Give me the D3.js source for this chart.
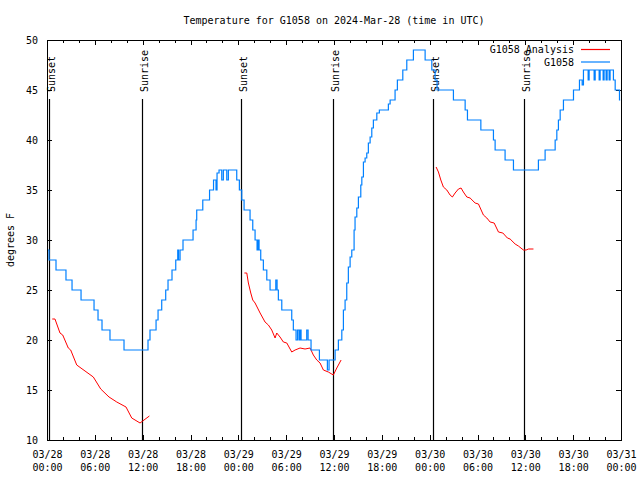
<!DOCTYPE html>
<html><head><meta charset="utf-8">
<script src="https://cdn.jsdelivr.net/npm/d3@7"></script>
<style>
body{margin:0;background:#fff;}
text{font-family:"DejaVu Sans Mono","Liberation Mono",monospace;font-size:10px;fill:#000;}
</style></head>
<body><svg id="c" width="640" height="480"></svg>
<script>
const title = "Temperature for G1058 on 2024-Mar-28 (time in UTC)";
const yLabel = "degrees F";
const seriesNames = ["G1058 Analysis", "G1058"];
const yTicks = [10,15,20,25,30,35,40,45,50];
const sunsetHours = [0.29, 24.38, 48.47];
const sunriseHours = [11.86, 35.92, 59.89];

const blueHours = [0.13,0.25,1.00,1.13,2.26,2.38,3.01,3.14,4.23,4.27,5.73,5.90,6.27,6.40,6.78,6.90,7.78,7.90,9.50,9.66,12.51,12.67,12.92,13.55,13.68,13.93,14.39,14.89,15.18,15.68,16.15,16.40,16.50,16.69,17.06,18.16,18.32,18.70,18.78,19.41,19.54,20.33,20.39,20.83,20.89,21.08,21.20,21.33,21.58,21.77,21.92,22.12,22.46,22.55,22.75,23.68,23.80,24.13,24.43,24.72,25.26,25.47,25.81,26.10,26.35,26.47,26.60,26.81,27.14,27.57,27.98,28.39,28.70,28.86,29.02,29.45,30.28,30.70,30.90,31.24,31.43,31.62,31.74,31.87,32.37,32.58,32.75,33.00,33.12,34.04,34.17,35.01,35.17,35.38,35.92,36.14,36.55,36.98,37.18,37.39,37.60,37.80,38.02,38.23,38.52,38.64,38.86,39.06,39.36,39.49,39.69,39.90,40.11,40.31,40.53,40.74,40.94,41.37,41.69,42.75,42.82,43.04,43.45,43.66,43.95,44.50,44.63,45.13,45.55,45.96,47.21,47.43,48.05,48.27,48.68,48.93,50.90,50.98,52.23,52.45,52.74,54.24,54.42,55.80,56.00,56.21,57.25,57.46,58.31,58.51,61.44,61.64,62.27,62.48,63.53,63.74,63.95,64.15,64.37,64.78,65.84,66.04,66.66,66.79,67.00,67.13,67.29,67.75,67.88,68.00,68.51,68.63,68.76,69.13,69.26,69.38,69.63,69.76,69.88,70.13,70.26,70.51,70.63,70.97,71.05,71.27,71.81,71.90];
const blueValues = [29,28,28,27,27,26,26,25,25,24,24,23,23,22,22,21,21,20,20,19,19,20,21,21,22,23,24,25,26,27,28,29,28,29,30,30,31,32,33,33,34,34,35,35,36,36,35,36.7,37,37,36,37,37,36,37,37,36,35,34,33,33,32,31,30,29,30,29,28,27,26,25,25,26,25,24,23,23,22,21,20,21,20,21,20,20,21,20,20,19,19,18,18,17,18,18,19,20,21,23,24,25.7,27.3,28.3,29,31,32.3,33.2,34.3,35.5,36.3,37.8,38.2,38.7,39.7,40.3,41.2,42,42.7,43,43,43.6,44,44,45,46,46,47,48,48,49,49,48,48,47,46,45,45,44,44,43,42,42,41,41,40,39,39,38,38,37,37,38,38,39,39,40,41,42,43,44,44,45,45,46,46,45.5,47,47,46,47,47,46,47,47,46,47,47,46,47,46,47,46,47,47,46,45,44,44];

// analysis series: three nightly segments (null = gap)
const redHours = [0.66,1.00,1.63,1.97,2.67,2.97,3.73,4.77,5.81,6.74,7.78,8.75,9.91,10.63,11.67,12.84,null,
  24.76,25.06,25.26,25.56,25.81,26.10,26.73,27.35,27.77,28.19,28.61,28.82,29.23,29.65,30.08,30.70,31.12,31.74,32.37,33.00,33.41,33.84,34.25,34.67,35.29,35.92,36.35,36.89,null,
  48.81,49.10,49.40,49.72,50.15,50.56,50.85,51.19,51.61,51.94,52.23,52.66,53.07,53.70,54.12,54.74,55.17,55.58,56.09,56.63,57.18,57.75,58.09,58.72,59.13,59.76,60.10,60.39,61.02];
const redValues = [22.1,22.1,20.7,20.5,19.2,19.0,17.5,16.9,16.3,15.1,14.3,13.8,13.3,12.2,11.7,12.4,null,
  26.7,26.7,25.7,24.7,24.0,23.7,22.7,21.8,21.5,21.0,20.2,20.7,20.3,19.8,19.7,18.8,19.0,19.2,19.1,19.2,18.5,18.0,17.7,17.0,16.8,16.5,17.2,18.0,null,
  37.3,36.8,36.0,35.3,35.0,34.5,34.3,34.7,35.1,35.2,34.8,34.3,34.2,33.7,33.6,32.5,32.2,31.8,31.7,30.8,30.7,30.2,30.1,29.6,29.4,29.0,29.0,29.1,29.1];

const t0 = Date.UTC(2024, 2, 28);
const toDate = h => new Date(t0 + h * 3600000);

const L = 47, R = 621, T = 40, B = 440;
const svg = d3.select("#c");
const x = d3.scaleUtc().domain([toDate(0), toDate(72)]).range([L, R]);
const y = d3.scaleLinear().domain([10, 50]).range([B, T]);

const fmtD = d3.utcFormat("%m/%d"), fmtT = d3.utcFormat("%H:%M");

// minor ticks (2h) on bottom and top
const minor = d3.utcHour.every(2);
svg.append("g").attr("transform", `translate(0,${B})`)
  .call(d3.axisBottom(x).ticks(minor).tickSize(-3).tickFormat(""))
  .call(g => g.select(".domain").remove());
svg.append("g").attr("transform", `translate(0,${T})`)
  .call(d3.axisTop(x).ticks(minor).tickSize(-3).tickFormat(""))
  .call(g => g.select(".domain").remove());

// major ticks (6h)
const major = d3.utcHour.every(6);
svg.append("g").attr("transform", `translate(0,${B})`)
  .call(d3.axisBottom(x).ticks(major).tickSize(-5).tickPadding(11).tickFormat(""))
  .call(g => g.select(".domain").remove())
  .call(g => g.selectAll(".tick text").each(function(d){
      const t = d3.select(this).attr("font-family", null).attr("font-size", null);
      t.append("tspan").attr("x", 0).text(fmtD(d));
      t.append("tspan").attr("x", 0).attr("dy", "12.5").text(fmtT(d));
  }));
svg.append("g").attr("transform", `translate(0,${T})`)
  .call(d3.axisTop(x).ticks(major).tickSize(-5).tickFormat(""))
  .call(g => g.select(".domain").remove());

// y axis
svg.append("g").attr("transform", `translate(${L},0)`)
  .call(d3.axisLeft(y).tickValues(yTicks).tickSize(-5).tickPadding(9))
  .call(g => g.select(".domain").remove())
  .call(g => g.selectAll(".tick text").attr("font-family", null).attr("font-size", null));
svg.append("g").attr("transform", `translate(${R},0)`)
  .call(d3.axisRight(y).tickValues(yTicks).tickSize(-5).tickFormat(""))
  .call(g => g.select(".domain").remove());

svg.selectAll(".tick line").attr("stroke", "#000").attr("shape-rendering", "crispEdges");

// border
svg.append("rect").attr("x", L).attr("y", T).attr("width", R - L).attr("height", B - T)
  .attr("fill", "none").attr("stroke", "#000").attr("shape-rendering", "crispEdges");

// sunrise / sunset markers
const events = sunsetHours.map(h => ({h, label: "Sunset"}))
  .concat(sunriseHours.map(h => ({h, label: "Sunrise"})));
events.forEach(e => {
  const xp = Math.round(x(toDate(e.h))) + 0.5;
  svg.append("line").attr("x1", xp).attr("x2", xp).attr("y1", 99).attr("y2", B)
    .attr("stroke", "#000").attr("stroke-width", 1.2);
  svg.append("text").attr("transform", `translate(${xp},92) rotate(-90)`)
    .attr("dy", "0.55em").text(e.label);
});

// lines
const blueData = blueHours.map((h, i) => ({t: toDate(h), v: blueValues[i]}));
const redData = redHours.map((h, i) => ({t: h == null ? null : toDate(h), v: redValues[i]}));
const line = d3.line().defined(d => d.v != null).x(d => x(d.t)).y(d => y(d.v));
const stepLine = d3.line().curve(d3.curveStepAfter).x(d => x(d.t)).y(d => y(d.v));

svg.append("path").datum(redData).attr("d", line)
  .attr("fill", "none").attr("stroke", "#ff0000").attr("stroke-width", 1);
svg.append("path").datum(blueData).attr("d", stepLine)
  .attr("fill", "none").attr("stroke", "#0080ff").attr("stroke-width", 1.2);

// legend
const colors = ["#ff0000", "#0080ff"];
seriesNames.forEach((n, i) => {
  const yy = 49.5 + i * 12.5;
  svg.append("text").attr("x", 574).attr("y", yy).attr("dy", "0.35em")
    .attr("text-anchor", "end").text(n);
  svg.append("line").attr("x1", 581).attr("x2", 610).attr("y1", yy).attr("y2", yy)
    .attr("stroke", colors[i]).attr("stroke-width", 1.2);
});

// title & y label
svg.append("text").attr("x", 334).attr("y", 20).attr("dy", "0.35em")
  .attr("text-anchor", "middle").text(title);
svg.append("text").attr("transform", "translate(10,240) rotate(-90)")
  .attr("dy", "0.35em").attr("text-anchor", "middle").text(yLabel);
</script></body></html>
